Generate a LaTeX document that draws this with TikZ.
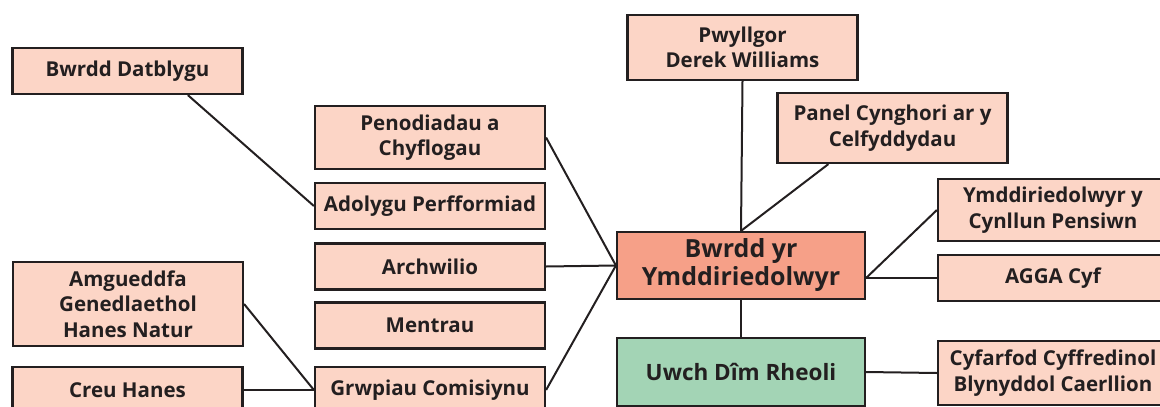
\documentclass[tikz,border=0pt]{standalone}
\usepackage{fontspec}
\setmainfont{Open Sans}
\usetikzlibrary{calc}
\definecolor{peach}{HTML}{FCD5C6}
\definecolor{salmon}{HTML}{F6A088}
\definecolor{mint}{HTML}{A3D4B5}
\definecolor{ink}{HTML}{231F20}

\begin{document}
\begin{tikzpicture}[x=1pt, y=-1pt]
\tikzstyle{every node} = [draw=ink, line width=2.2, fill=peach, align=center, inner sep=0, text=ink, font=\fontsize{20.5}{25.5}\selectfont\bfseries]
\tikzstyle{edge} = [draw=ink, line width=2.0]
\tikzstyle{sidebox} = [minimum width=230, minimum height=46]
\tikzstyle{mainbox} = [minimum width=248, font=\fontsize{25}{28}\selectfont\bfseries]
\useasboundingbox (0,0) rectangle (1160,407);
% left column
\node[sidebox] (datblygu) at (127.5, 71) {Bwrdd Datblygu};
\node[sidebox, minimum height=84] (amgueddfa) at (128, 304) {Amgueddfa\\Genedlaethol\\Hanes Natur};
\node[sidebox] (creu) at (127.5, 390) {Creu Hanes};
% middle column
\node[sidebox, minimum height=63] (penodiadau) at (430, 137.5) {Penodiadau a\\Chyflogau};
\node[sidebox] (adolygu) at (430, 206) {Adolygu Perfformiad};
\node[sidebox] (archwilio) at (430, 266.5) {Archwilio};
\node[sidebox] (mentrau) at (430, 325.5) {Mentrau};
\node[sidebox] (grwpiau) at (430, 390) {Grwpiau Comisiynu};
% centre
\node[sidebox, minimum height=65] (pwyllgor) at (742.5, 47.5) {Pwyllgor\\Derek Williams};
\node[sidebox, minimum height=70] (panel) at (892.5, 128) {Panel Cynghori ar y\\Celfyddydau};
\node[mainbox, fill=salmon, minimum height=67] (bwrdd) at (741, 265.5) {Bwrdd yr\\Ymddiriedolwyr};
\node[mainbox, fill=mint, minimum height=68, font=\fontsize{22.5}{26}\selectfont\bfseries] (uwch) at (741, 372) {Uwch Dîm Rheoli};
% right column
\node[sidebox, minimum height=62] (pensiwn) at (1053, 210) {Ymddiriedolwyr y\\Cynllun Pensiwn};
\node[sidebox] (agga) at (1053, 278) {AGGA Cyf};
\node[sidebox, minimum height=64] (cyfarfod) at (1053, 373) {Cyfarfod Cyffredinol\\Blynyddol Caerllion};
% connectors
\draw[edge] ($(datblygu.south west)!0.76!(datblygu.south east)$) -- (adolygu.west);
\draw[edge] (amgueddfa.east) -- (grwpiau.west);
\draw[edge] (creu.east) -- (grwpiau.west);
\draw[edge] (penodiadau.east) -- (bwrdd.west);
\draw[edge] (archwilio.east) -- (bwrdd.west);
\draw[edge] (grwpiau.east) -- (bwrdd.west);
\draw[edge] (pwyllgor.south) -- (bwrdd.north);
\draw[edge] ($(panel.south west)+(52,0)$) -- (bwrdd.north);
\draw[edge] (pensiwn.west) -- (bwrdd.east |- agga.west);
\draw[edge] (agga.west) -- (bwrdd.east |- agga.west);
\draw[edge] (bwrdd.south) -- (uwch.north);
\draw[edge] (uwch.east) -- (cyfarfod.west);
\end{tikzpicture}
\end{document}
